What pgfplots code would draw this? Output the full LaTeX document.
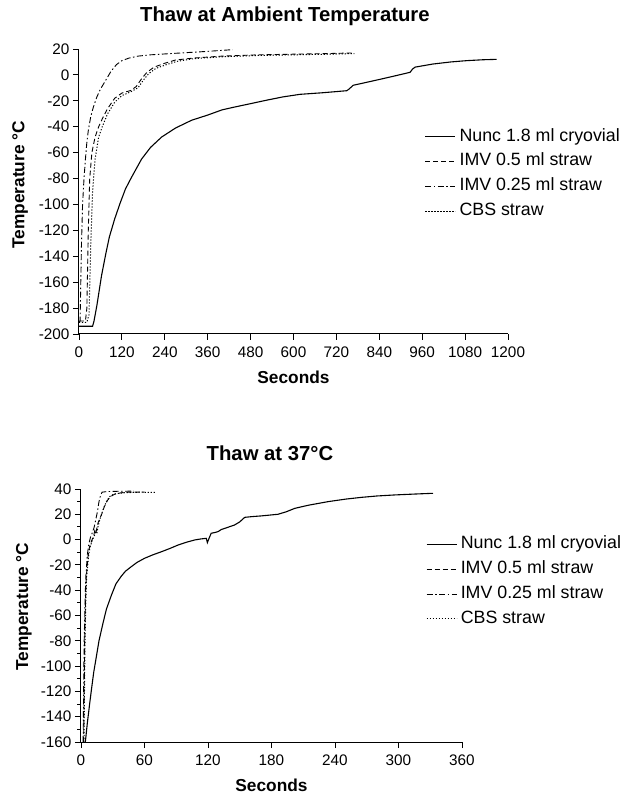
\documentclass[border=0pt]{standalone}
\usepackage{pgfplots}
\pgfplotsset{compat=1.18}
\usepackage{fontspec}
\setmainfont{Liberation Sans}

\pgfplotsset{
  thaw/.style={
    scale only axis,
    axis x line*=bottom, axis y line*=left,
    tick align=outside,
    major tick length=6pt, minor tick length=3.5pt,
    every tick/.style={black, line width=0.9pt},
    axis line style={line width=1pt},
    tick label style={font=\fontsize{15.3}{17}\selectfont},
    xticklabel style={yshift=-3pt},
    /pgf/number format/assume math mode=true,
    /pgf/number format/1000 sep={},
    label style={font=\bfseries\fontsize{17.3}{20}\selectfont},
    title style={font=\bfseries\fontsize{20.3}{24}\selectfont, anchor=base},
    legend style={draw=none, fill=none, inner sep=0pt,
      font=\fontsize{17.8}{20}\selectfont, row sep=8.4pt,
      nodes={inner xsep=3.7pt, inner ysep=0pt, text height=12.8pt, text depth=3.7pt}},
    legend cell align=left,
    legend image code/.code={\draw[#1] (0pt,0pt) -- (30pt,0pt);},
  },
  nunc/.style={black, line width=1.1pt},
  imvA/.style={black, line width=0.9pt, dash pattern=on 5pt off 3pt},
  imvB/.style={black, line width=0.9pt, dash pattern=on 6pt off 2.5pt on 1.5pt off 2.5pt},
  cbs/.style={black, line width=1pt, dash pattern=on 1.2pt off 1.8pt},
}

\begin{document}
\begin{tikzpicture}[x=1pt,y=1pt]
\path[use as bounding box] (0,0) rectangle (628,796);

% thaw at ambient temperature
\begin{axis}[thaw,
  at={(79pt,462pt)}, anchor=south west,
  width=429pt, height=285pt,
  xmin=0, xmax=1200, ymin=-200, ymax=20,
  xtick={0,120,...,1200}, ytick={-200,-180,...,20},
  title={Thaw at Ambient Temperature},
  title style={at={(axis description cs:0.48,1.074)}},
  xlabel={Seconds}, ylabel={Temperature °C},
  xlabel style={at={(axis description cs:0.5,-0.175)}, anchor=base},
  ylabel style={at={(axis description cs:-0.1375,0.523)}, anchor=center},
  legend style={at={(axis description cs:0.8055,0.7225)}, anchor=north west},
]
\addplot[nunc] coordinates {
(0,-194) (38,-194) (42,-190) (50,-178) (63,-155) (75,-138) (85,-125) (100,-111)
(115,-99) (130,-88) (147,-79) (175,-65) (200,-56) (231,-48) (270,-41) (315,-35)
(360,-31) (400,-27) (432,-25) (483,-22) (525,-19.5) (570,-17) (618,-15) (680,-13.8)
(749,-12.2) (755,-11) (767,-8) (800,-6) (842,-3.4) (880,-1) (926,2) (933,4.5)
(940,6) (990,8.4) (1040,10) (1084,11) (1130,11.7) (1168,12)
};
\addplot[imvA] coordinates {
(0,-190) (18,-190) (22,-180) (26,-120) (30,-80) (36,-60) (45,-48) (55,-40)
(65,-34) (80,-26) (100,-18) (120,-14) (145,-12) (160,-9) (175,-3) (190,2)
(210,6) (240,9) (270,11.5) (320,13) (400,14.5) (500,15.5) (600,16) (700,16.5) (770,17)
};
\addplot[imvB] coordinates {
(0,-191) (3,-190) (5,-160) (7,-130) (10,-100) (14,-80) (18,-65) (22,-52)
(26,-43) (33,-32) (40,-25) (50,-17) (60,-11) (75,-4) (90,3) (105,8)
(120,11) (140,13) (165,14.5) (200,15.5) (270,16.7) (350,18) (430,19.5)
};
\addplot[cbs] coordinates {
(0,-191) (22,-191) (28,-185) (33,-130) (38,-90) (45,-65) (55,-48) (65,-40)
(80,-30) (100,-21) (120,-16) (145,-13) (165,-10) (180,-4) (195,1) (215,5)
(245,8) (275,10.5) (320,12.5) (400,14) (500,15) (600,15.5) (700,16) (770,16.5)
};
\legend{Nunc 1.8 ml cryovial, IMV 0.5 ml straw, IMV 0.25 ml straw, CBS straw}
\end{axis}

% thaw at 37 C
\begin{axis}[thaw,
  at={(81pt,54pt)}, anchor=south west,
  width=381pt, height=253pt,
  xmin=0, xmax=360, ymin=-160, ymax=40,
  xtick={0,60,...,360}, ytick={-160,-140,...,40},
  minor y tick num=1,
  title={Thaw at 37°C},
  title style={at={(axis description cs:0.496,1.088)}},
  xlabel={Seconds}, ylabel={Temperature °C},
  xlabel style={at={(axis description cs:0.5,-0.196)}, anchor=base},
  ylabel style={at={(axis description cs:-0.15,0.535)}, anchor=center},
  legend style={at={(axis description cs:0.905,0.815)}, anchor=north west},
]
\addplot[nunc] coordinates {
(4.1,-160) (6,-145) (8,-131) (9.8,-119) (12,-105) (14.5,-92.5) (17,-80)
(20.8,-66) (24,-55) (28.7,-44) (33,-35) (38,-29) (42,-25) (47.5,-21.4) (53,-18)
(60,-14.8) (68,-12) (76,-9.6) (84,-7) (91.7,-4.3) (100,-2) (107.4,-0.3) (113,0.5)
(118.4,1) (119.4,-2.4) (121,1) (123,5) (126,5.5) (129.5,6.3) (132.6,8) (138,9.5)
(145,11.5) (150,14) (154.7,17.6) (162,18.2) (170,18.7) (186,20) (194,22)
(202,24.7) (215,27.2) (233.4,30) (250,32) (265,33.4) (280,34.5) (296.5,35.3)
(315,36) (332.6,36.6)
};
\addplot[imvA] coordinates {
(2.5,-160) (3,-120) (3.5,-80) (4.2,-50) (5,-30) (6.5,-14) (8,-6) (10,-1)
(12,3) (13,7) (14,5) (15,9) (16,13) (18,17) (20,21) (22,26) (25,31) (28,34)
(32,36) (38,37) (45,37.5) (60,37.5)
};
\addplot[imvB] coordinates {
(2,-160) (2.5,-120) (3,-80) (3.8,-50) (4.5,-30) (6,-12) (7.5,-3) (9,2)
(11,6) (12.5,10) (14,16) (15.5,22) (17,30) (18.5,35) (20,37.5) (25,38)
(35,38.2) (50,38.3)
};
\addplot[cbs] coordinates {
(2.8,-160) (3.3,-120) (3.8,-80) (4.5,-50) (5.3,-30) (7,-14) (8.5,-6) (10.5,-1)
(12.5,3) (14,6) (15,5) (16,10) (17.5,15) (19,19) (21,24) (24,30) (27,34)
(31,36) (40,37) (55,37.5) (70,37.3)
};
\legend{Nunc 1.8 ml cryovial, IMV 0.5 ml straw, IMV 0.25 ml straw, CBS straw}
\end{axis}
\end{tikzpicture}
\end{document}
